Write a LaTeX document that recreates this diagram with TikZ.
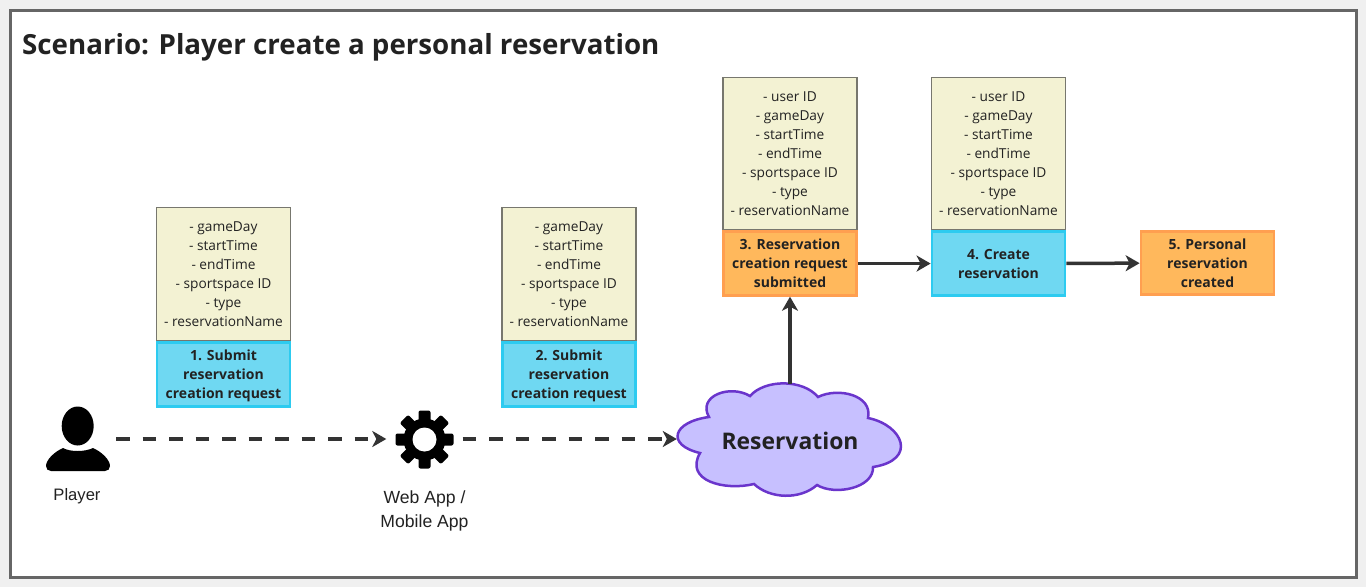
\documentclass[tikz,border=0pt]{standalone}
\usepackage{fontspec}
\setmainfont{Open Sans}
\newfontfamily\labelfont{Liberation Sans}
\usetikzlibrary{positioning,arrows.meta}
\definecolor{PageGray}{HTML}{F0F0F0}
\definecolor{FrameGray}{HTML}{666666}
\definecolor{DataFill}{HTML}{F3F2D3}
\definecolor{DataEdge}{HTML}{77776E}
\definecolor{CmdFill}{HTML}{6FD8F2}
\definecolor{CmdEdge}{HTML}{2DCBF0}
\definecolor{EventFill}{HTML}{FFB85C}
\definecolor{EventEdge}{HTML}{FF9F50}
\definecolor{CloudFill}{HTML}{C7C0FF}
\definecolor{CloudEdge}{HTML}{6A35CC}
\definecolor{InkGray}{HTML}{222222}
\definecolor{LineGray}{HTML}{333333}

\begin{document}
\begin{tikzpicture} [x=1pt, y=-1pt,
    data/.style = {draw=DataEdge,
    line width = 1.8pt,
    fill=DataFill,
    text=InkGray,
    minimum width = 134pt,
    inner sep = 0pt,
    align = center,
    text depth = 0pt,
    font = \fontsize{13.7}{19.1}\selectfont},
    stepbox/.style = {line width = 2.8pt,
    text=InkGray,
    minimum width = 133pt,
    minimum height = 63.5pt,
    inner sep = 0pt,
    align = center,
    text depth = 0pt,
    font = \fontsize{14}{19.1}\selectfont\bfseries},
    command/.style = {stepbox, draw=CmdEdge, fill=CmdFill},
    event/.style = {stepbox, draw=EventEdge, fill=EventFill},
    icon/.style = {inner sep = 0pt, minimum height = 60pt},
    flow/.style = {draw=LineGray, line width = 3.5pt, -{Stealth[length=14pt,width=16pt,inset=4pt]}},
    async/.style = {flow, dash pattern = on 13.5pt off 13pt}]

\useasboundingbox (0,0) rectangle (1366,587);
\fill [PageGray] (0,0) rectangle (1366,587);
\draw [draw=FrameGray, fill=white, line width = 3pt] (10,10) rectangle (1356,577);

\node (title) at (22,47) [anchor=west, inner sep=0pt, text=InkGray, font=\fontsize{27.7}{32}\selectfont\bfseries] {Scenario: Player create a personal reservation};

% player icon
\fill (77.7,426) ellipse (16 and 19.5);
\fill (63,448) .. controls (70,452) and (85,452) .. (93,448)
  .. controls (102,452) and (110,460) .. (110,466)
  .. controls (110,469) and (108,471) .. (105,471)
  -- (51,471) .. controls (48,471) and (46,469) .. (46,466)
  .. controls (46,460) and (54,452) .. (63,448) -- cycle;
\node (player) at (77,439) [icon, minimum width = 78pt] {};
\node (playerlabel) at (77,496) [text=InkGray, inner sep=0pt, font=\labelfont\fontsize{16.6}{18}\selectfont] {Player};

% gear icon
\fill (424.5,439.5) circle (21);
\foreach \a in {0,45,...,315}
  \fill [rounded corners=2pt, rotate around={\a:(424.5,439.5)}] (418.5,410.5) rectangle (430.5,425);
\fill [white] (424.5,439.5) circle (12);
\node (app) at (424.5,439) [icon, minimum width = 76pt] {};
\node (applabel) at (424.5,511) [text=InkGray, inner sep=0pt, align=center, font=\labelfont\fontsize{17.6}{24.5}\selectfont] {Web App /\\Mobile App};

% reservation cloud
\draw [draw=CloudEdge, fill=CloudFill, line width = 2.5pt] (750,396)
  .. controls (765,379) and (803,379) .. (818,397)
  .. controls (838,387) and (873,395) .. (868,418)
  .. controls (903,425) and (918,460) .. (873,467)
  .. controls (874,488) and (835,496) .. (817,485)
  .. controls (800,500) and (770,499) .. (754,484)
  .. controls (725,491) and (684,481) .. (700,453)
  .. controls (666,445) and (672,422) .. (709,417)
  .. controls (697,396) and (730,384) .. (750,396) -- cycle;
\node (cloud) at (790,440.5) [minimum width = 226pt, minimum height = 113pt, inner sep=0pt, text=InkGray, font=\fontsize{22.9}{27}\selectfont\bfseries] {Reservation};

\node (data1) at (223.5,274) [data, minimum height = 133pt] {- gameDay\\- startTime\\- endTime\\- sportspace ID\\- type\\- reservationName};
\node (step1) [command, below=0pt of data1] {1. Submit\\reservation\\creation request};

\node (data2) at (569,274) [data, minimum height = 133pt] {- gameDay\\- startTime\\- endTime\\- sportspace ID\\- type\\- reservationName};
\node (step2) [command, below=0pt of data2] {2. Submit\\reservation\\creation request};

\node (data3) at (790,153.5) [data, minimum height = 152pt] {- user ID\\- gameDay\\- startTime\\- endTime\\- sportspace ID\\- type\\- reservationName};
\node (step3) [event, below=0pt of data3] {3. Reservation\\creation request\\submitted};

\node (data4) at (998.5,153.5) [data, minimum height = 152pt] {- user ID\\- gameDay\\- startTime\\- endTime\\- sportspace ID\\- type\\- reservationName};
\node (step4) [command, below=0pt of data4] {4. Create\\reservation};

\node (step5) at (1207.5,263) [event] {5. Personal\\reservation\\created};

\draw [async] (player) -- (app);
\draw [async] (app) -- (cloud.west |- app);
\draw [flow] (cloud) -- (step3);
\draw [flow] (step3) -- (step4);
\draw [flow] (step4) -- (step5);

\end{tikzpicture}
\end{document}
